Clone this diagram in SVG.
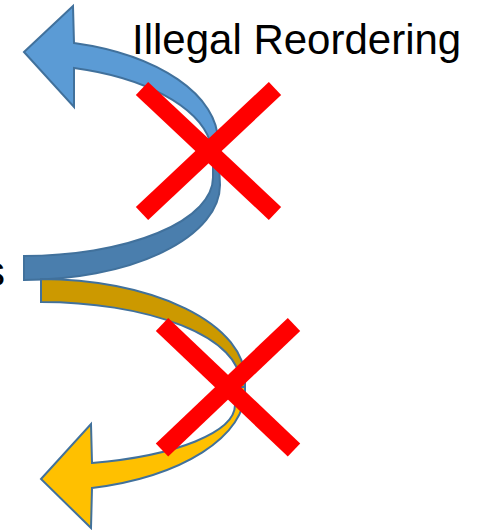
<svg xmlns="http://www.w3.org/2000/svg" width="483" height="530" viewBox="0 0 483 530">
<style>
.lbl{font-family:"Liberation Sans",Arial,sans-serif;font-size:42px;fill:#000}
.edge{stroke:#41719C;stroke-width:2;stroke-linejoin:miter}
.x{stroke:#FF0000;stroke-width:18;stroke-linecap:butt}
</style>
<rect width="483" height="530" fill="#fff"/>
<text class="lbl" x="-16" y="286">s</text>
<text class="lbl" x="132" y="54">Illegal Reordering</text>
<g id="connectors">
<g id="blue-arrow">
<path class="edge" fill="#4A7EAD" d="M218,141 L220,185 A196 95 0 0 1 24,280 L24,256 A189 78.4 0 0 0 213,177.6 L213,157 L210,141 Z"/>
<path class="edge" fill="#5B9BD5" d="M24,52 L73,6 L74,43 A194 102 0 0 1 218,141 L210,141 A189 92 0 0 0 74,68 L74,107 Z"/>
</g>
<g id="gold-arrow">
<path class="edge" fill="#CC9900" d="M41,279 A204 100 0 0 1 245,379 L245,387 L238,387 L240,382 A199 80 0 0 0 41,302 Z"/>
<path class="edge" fill="#FFC000" d="M245,387 L245,391 A204 100 0 0 1 92,488 L91,528 L41,479 L91,424 L92,463 A194 60 0 0 0 235,405 L238,387 Z"/>
</g>
</g>
<g id="cross-top">
<line class="x" x1="142" y1="88.5" x2="275" y2="213.5"/>
<line class="x" x1="142" y1="213.5" x2="275" y2="88.5"/>
</g>
<g id="cross-bottom">
<line class="x" x1="162" y1="324.5" x2="294" y2="450"/>
<line class="x" x1="162" y1="450" x2="294" y2="324.5"/>
</g>
</svg>
